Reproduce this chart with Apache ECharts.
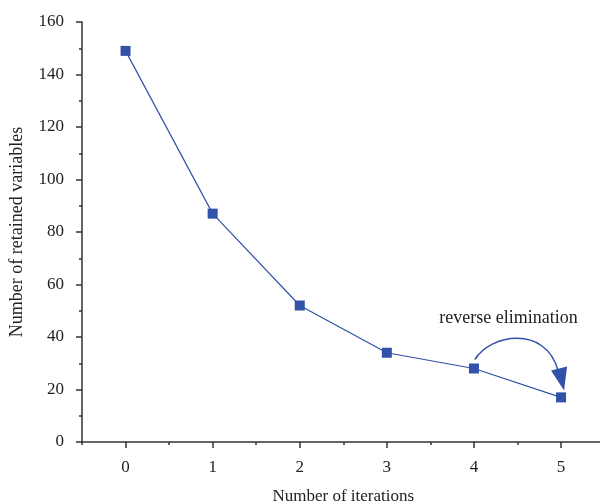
<!DOCTYPE html>
<html>
<head>
<meta charset="utf-8">
<script src="https://cdn.jsdelivr.net/npm/echarts@6/dist/echarts.min.js"></script>
<style>
  html, body { margin: 0; padding: 0; background: #fff; }
  #chart { width: 600px; height: 504px; }
</style>
</head>
<body>
<div id="chart"></div>
<script>
// data
const iterations = [0, 1, 2, 3, 4, 5];
const retained = [149, 87, 52, 34, 28, 17];
const yTicks = [0, 20, 40, 60, 80, 100, 120, 140, 160];
const xMinorTicks = [-0.5, 0.5, 1.5, 2.5, 3.5, 4.5, 5.5];
const noteText = "reverse elimination";

const font = "Liberation Serif";
const axisColor = "#333";
const blue = "#3152a8";

const chart = echarts.init(document.getElementById("chart"));

const option = {
  animation: false,
  grid: { left: 82, right: -4.6, top: 22, bottom: 62, outerBoundsMode: "none" },
  xAxis: [
    {
      type: "value",
      min: -0.5,
      max: 5.5,
      name: "Number of iterations",
      nameLocation: "middle",
      nameGap: 46,
      nameTextStyle: { fontFamily: font, fontSize: 17, color: "#222" },
      splitLine: { show: false },
      axisLine: { onZero: false, lineStyle: { color: axisColor, width: 1.5 } },
      axisTick: { customValues: iterations, length: 6, lineStyle: { color: axisColor, width: 1.5 } },
      axisLabel: { customValues: iterations, margin: 17, fontFamily: font, fontSize: 17, color: "#222" }
    },
    {
      type: "value",
      min: -0.5,
      max: 5.5,
      position: "bottom",
      splitLine: { show: false },
      axisLine: { show: false, onZero: false },
      axisTick: { customValues: xMinorTicks, length: 3, lineStyle: { color: axisColor, width: 1.5 } },
      axisLabel: { show: false }
    }
  ],
  yAxis: {
    type: "value",
    min: 0,
    max: 160,
    interval: 20,
    customValues: yTicks,
    name: "Number of retained variables",
    nameLocation: "middle",
    nameGap: 56,
    nameTextStyle: { fontFamily: font, fontSize: 18, color: "#222" },
    splitLine: { show: false },
    axisLine: { show: true, onZero: false, lineStyle: { color: axisColor, width: 1.5 } },
    axisTick: { show: true, length: 6, lineStyle: { color: axisColor, width: 1.5 } },
    minorTick: { show: true, splitNumber: 2, length: 3, lineStyle: { color: axisColor, width: 1.5 } },
    axisLabel: { margin: 18, fontFamily: font, fontSize: 17, color: "#222" }
  },
  series: [
    {
      type: "line",
      data: iterations.map((x, i) => [x, retained[i]]),
      symbol: "rect",
      symbolSize: 10,
      itemStyle: { color: blue },
      lineStyle: { color: blue, width: 1.2 }
    }
  ]
};

chart.setOption(option);

// curved arrow annotation from point 4 to point 5
function drawNote() {
  const p4 = chart.convertToPixel({ xAxisIndex: 0, yAxisIndex: 0 }, [iterations[4], retained[4]]);
  const p5 = chart.convertToPixel({ xAxisIndex: 0, yAxisIndex: 0 }, [iterations[5], retained[5]]);
  chart.setOption({
    graphic: [
      {
        type: "bezierCurve",
        shape: {
          x1: p4[0] + 1, y1: p4[1] - 9,
          cpx1: p4[0] + 16, cpy1: p4[1] - 34,
          cpx2: p5[0] - 16, cpy2: p5[1] - 73,
          x2: p5[0] - 3, y2: p5[1] - 27
        },
        style: { stroke: blue, lineWidth: 1.5, fill: null }
      },
      {
        type: "polygon",
        shape: { points: [[p5[0] - 10, p5[1] - 27], [p5[0] + 6, p5[1] - 31], [p5[0] + 3, p5[1] - 7]] },
        style: { fill: blue }
      },
      {
        type: "text",
        x: (p4[0] + p5[0]) / 2 - 9,
        y: p4[1] - 50,
        style: { text: noteText, fontFamily: font, fontSize: 18, fill: "#222", align: "center", verticalAlign: "middle" }
      }
    ]
  });
}
drawNote();
</script>
</body>
</html>
